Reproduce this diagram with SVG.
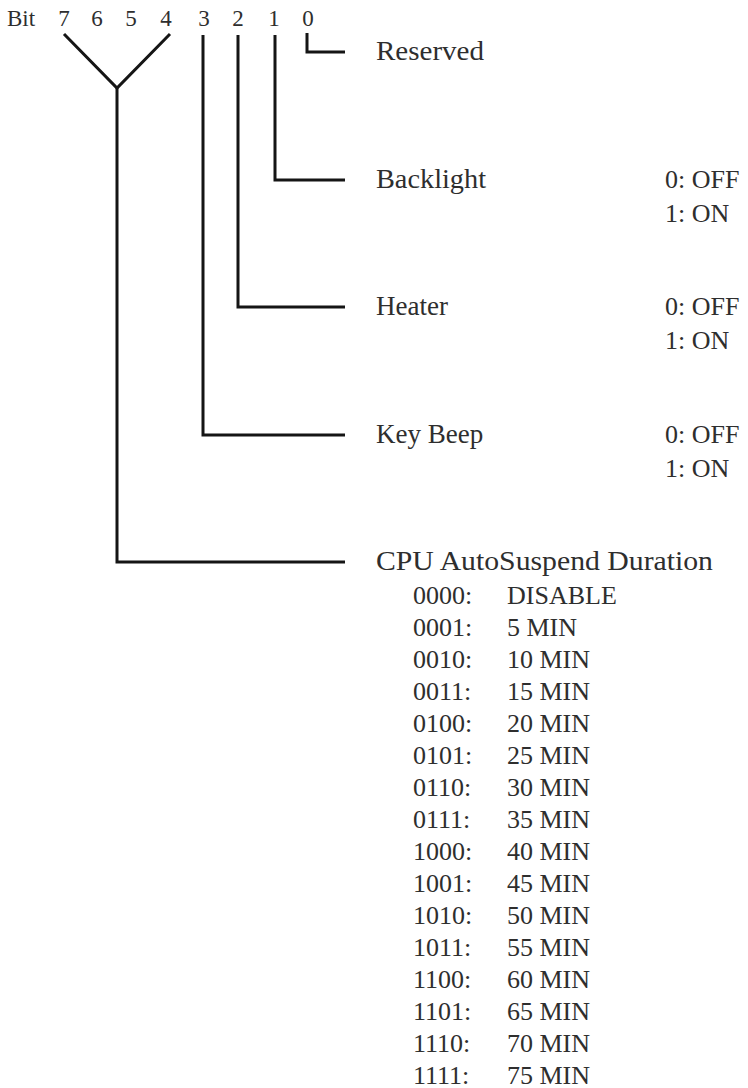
<svg xmlns="http://www.w3.org/2000/svg" width="748" height="1088" viewBox="0 0 748 1088">
<style>
text{font-family:"Liberation Serif","Times New Roman",serif;fill:#2e2e2e;}
.hd{font-size:23px;}
.lb{font-size:27px;}
.val{font-size:26px;}
.ls{font-size:26px;}
.wire{fill:none;stroke:#151515;stroke-width:3;stroke-linejoin:miter;stroke-linecap:butt;}
</style>
<rect width="748" height="1088" fill="#ffffff"/>
<g id="header">
<text class="hd" x="7" y="26">Bit</text>
<text class="hd" x="64" y="26" text-anchor="middle">7</text>
<text class="hd" x="97" y="26" text-anchor="middle">6</text>
<text class="hd" x="131" y="26" text-anchor="middle">5</text>
<text class="hd" x="166" y="26" text-anchor="middle">4</text>
<text class="hd" x="204" y="26" text-anchor="middle">3</text>
<text class="hd" x="238" y="26" text-anchor="middle">2</text>
<text class="hd" x="274" y="26" text-anchor="middle">1</text>
<text class="hd" x="308" y="26" text-anchor="middle">0</text>
</g>
<g id="connectors">
<polyline class="wire" points="64,34 117,88 170,34"/>
<polyline class="wire" points="117,88 117,562 345,562"/>
<polyline class="wire" points="203,35 203,435 345,435"/>
<polyline class="wire" points="238,35 238,307 345,307"/>
<polyline class="wire" points="275,35 275,180 345,180"/>
<polyline class="wire" points="307,33 307,52 345,52"/>
</g>
<g id="reserved">
<text class="lb" x="376" y="60" textLength="108" lengthAdjust="spacingAndGlyphs">Reserved</text>
</g>
<g id="backlight">
<text class="lb" x="376" y="188" textLength="110" lengthAdjust="spacingAndGlyphs">Backlight</text>
<text class="val" x="665" y="188">0: OFF</text>
<text class="val" x="665" y="222">1: ON</text>
</g>
<g id="heater">
<text class="lb" x="376" y="315">Heater</text>
<text class="val" x="665" y="315">0: OFF</text>
<text class="val" x="665" y="349">1: ON</text>
</g>
<g id="keybeep">
<text class="lb" x="376" y="443">Key Beep</text>
<text class="val" x="665" y="443">0: OFF</text>
<text class="val" x="665" y="477">1: ON</text>
</g>
<g id="cpu">
<text class="lb" x="376" y="570" textLength="337" lengthAdjust="spacingAndGlyphs">CPU AutoSuspend Duration</text>
<text class="ls" x="413" y="604">0000:</text><text class="ls" x="507" y="604">DISABLE</text>
<text class="ls" x="413" y="636">0001:</text><text class="ls" x="507" y="636">5 MIN</text>
<text class="ls" x="413" y="668">0010:</text><text class="ls" x="507" y="668">10 MIN</text>
<text class="ls" x="413" y="700">0011:</text><text class="ls" x="507" y="700">15 MIN</text>
<text class="ls" x="413" y="732">0100:</text><text class="ls" x="507" y="732">20 MIN</text>
<text class="ls" x="413" y="764">0101:</text><text class="ls" x="507" y="764">25 MIN</text>
<text class="ls" x="413" y="796">0110:</text><text class="ls" x="507" y="796">30 MIN</text>
<text class="ls" x="413" y="828">0111:</text><text class="ls" x="507" y="828">35 MIN</text>
<text class="ls" x="413" y="860">1000:</text><text class="ls" x="507" y="860">40 MIN</text>
<text class="ls" x="413" y="892">1001:</text><text class="ls" x="507" y="892">45 MIN</text>
<text class="ls" x="413" y="924">1010:</text><text class="ls" x="507" y="924">50 MIN</text>
<text class="ls" x="413" y="956">1011:</text><text class="ls" x="507" y="956">55 MIN</text>
<text class="ls" x="413" y="988">1100:</text><text class="ls" x="507" y="988">60 MIN</text>
<text class="ls" x="413" y="1020">1101:</text><text class="ls" x="507" y="1020">65 MIN</text>
<text class="ls" x="413" y="1052">1110:</text><text class="ls" x="507" y="1052">70 MIN</text>
<text class="ls" x="413" y="1084">1111:</text><text class="ls" x="507" y="1084">75 MIN</text>
</g>
</svg>
